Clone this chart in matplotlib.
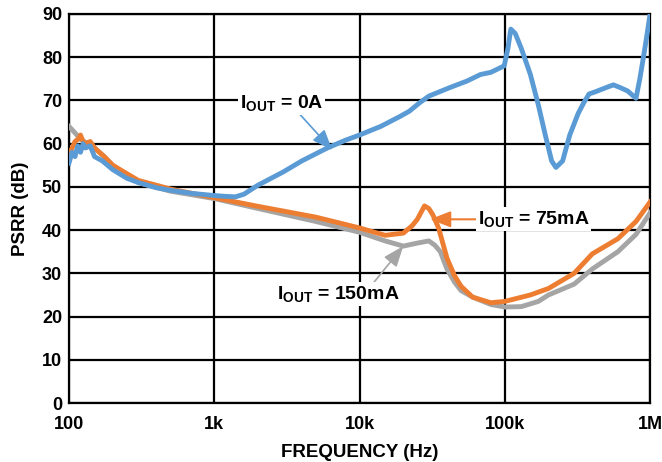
import matplotlib.pyplot as plt
import numpy as np

plt.rcParams['font.family'] = ['Liberation Sans', 'DejaVu Sans']
plt.rcParams['font.weight'] = 'bold'
plt.rcParams['mathtext.fontset'] = 'custom'
plt.rcParams['mathtext.rm'] = 'Liberation Sans:bold'
plt.rcParams['mathtext.bf'] = 'Liberation Sans:bold'
plt.rcParams['mathtext.it'] = 'Liberation Sans:bold'

# IOUT = 0A
freq_0a = [100, 105, 110, 115, 120, 125, 130, 140, 150, 170, 200, 250, 300, 400, 500, 700,
           1000, 1200, 1400, 1600, 2000, 3000, 4000, 6000, 8000, 10000, 14000, 19000,
           22000, 26000, 30000, 42000, 55000, 68000, 80000, 86000, 99000, 105000, 110000,
           118000, 130000, 150000, 170000, 190000, 210000, 225000, 250000, 280000, 320000,
           350000, 380000, 420000, 500000, 560000, 620000, 700000, 800000, 850000, 900000,
           950000, 1000000]
psrr_0a = [55.5, 58, 57, 59.5, 58, 60, 59, 59.5, 57, 56, 54, 52, 51, 49.8, 49.2, 48.5,
           48, 47.8, 47.7, 48.3, 50.4, 53.5, 56, 59, 60.8, 62, 64, 66.3, 67.5, 69.5, 71,
           73, 74.5, 76, 76.5, 77, 78, 82, 86.5, 85.5, 82, 76, 69, 62, 56, 54.5, 56, 62,
           67, 69.5, 71.5, 72, 73, 73.6, 73, 72.2, 70.5, 75, 80, 85, 90]

# IOUT = 75mA
freq_75ma = [100, 105, 110, 115, 120, 125, 130, 140, 150, 175, 200, 300, 500, 1000, 2000,
             5000, 10000, 15000, 20000, 23000, 25000, 28000, 30000, 32000, 35000, 40000,
             45000, 50000, 60000, 80000, 100000, 150000, 200000, 300000, 400000, 600000,
             800000, 1000000]
psrr_75ma = [57, 59, 60.5, 61, 62, 60.5, 60, 60.5, 59, 57, 55, 51.5, 49.5, 47.5, 45.5, 43,
             40.5, 38.8, 39.3, 41, 42.5, 45.6, 45, 43.5, 40.5, 33.5, 29.5, 27, 24.5, 23.2,
             23.5, 25, 26.5, 30, 34.5, 38, 42, 46.5]

# IOUT = 150mA
freq_150ma = [100, 110, 120, 135, 150, 175, 200, 300, 500, 1000, 2000, 5000, 10000,
              15000, 20000, 25000, 30000, 33000, 36000, 40000, 45000, 50000, 60000, 80000,
              100000, 130000, 170000, 200000, 300000, 400000, 600000, 800000, 1000000]
psrr_150ma = [64, 62.5, 61, 60, 59, 57, 55, 51, 49, 47.3, 45, 42, 39.5, 37.5, 36.3, 37,
              37.5, 36.5, 35, 31, 28, 26, 24.5, 22.8, 22.2, 22.3, 23.5, 25, 27.5, 31, 35,
              39, 44]

c_blue = '#5B9BD5'
c_orange = '#ED7D31'
c_gray = '#A5A5A5'

fig = plt.figure(figsize=(6.62, 4.62), dpi=100)
ax = fig.add_axes([0.1042, 0.1277, 0.8778, 0.842])

ax.plot(freq_150ma, psrr_150ma, color=c_gray, lw=3.5, zorder=3)
ax.plot(freq_75ma, psrr_75ma, color=c_orange, lw=3.5, zorder=4)
ax.plot(freq_0a, psrr_0a, color=c_blue, lw=3.5, zorder=5)

ax.set_xscale('log')
ax.set_xlim(100, 1e6)
ax.set_ylim(0, 90)
ax.set_xticks([1e2, 1e3, 1e4, 1e5, 1e6])
ax.set_xticklabels(['100', '1k', '10k', '100k', '1M'])
ax.xaxis.set_minor_locator(plt.NullLocator())
ax.set_yticks(np.arange(0, 91, 10))
ax.tick_params(length=0, labelsize=13)
ax.tick_params(axis='x', pad=9)
ax.tick_params(axis='y', pad=5)
ax.grid(True, color='black', lw=1.6)
for s in ax.spines.values():
    s.set_linewidth(1.6)

ax.set_xlabel('FREQUENCY (Hz)', fontsize=13.5, fontweight='bold', labelpad=8)
ax.set_ylabel('PSRR (dB)', fontsize=13.5, fontweight='bold')
ax.yaxis.set_label_coords(-0.068, 0.5)

box = dict(boxstyle='square,pad=0.1', fc='white', ec='none')
arrow = '-|>,head_length=0.9,head_width=0.35'
ax.annotate(r'$\mathrm{I_{OUT}}$ = 0A', xy=(6500, 58.5), xytext=(1500, 69.5),
            fontsize=14, ha='left', va='center', bbox=box, zorder=6,
            arrowprops=dict(arrowstyle=arrow, color=c_blue, lw=1.2,
                            shrinkA=0, shrinkB=0, relpos=(0.7, 0.0)))
ax.annotate(r'$\mathrm{I_{OUT}}$ = 75mA', xy=(30500, 42.5), xytext=(65000, 42.5),
            fontsize=14, ha='left', va='center', bbox=box, zorder=6,
            arrowprops=dict(arrowstyle=arrow, color=c_orange, lw=1.5,
                            shrinkA=0, shrinkB=0, relpos=(0.0, 0.5)))
ax.annotate(r'$\mathrm{I_{OUT}}$ = 150mA', xy=(20000, 36.3), xytext=(2700, 25.2),
            fontsize=14, ha='left', va='center', bbox=box, zorder=6,
            arrowprops=dict(arrowstyle=arrow, color=c_gray, lw=1.2,
                            shrinkA=0, shrinkB=0, relpos=(0.78, 1.0)))

fig.savefig('out.png', dpi=100)
